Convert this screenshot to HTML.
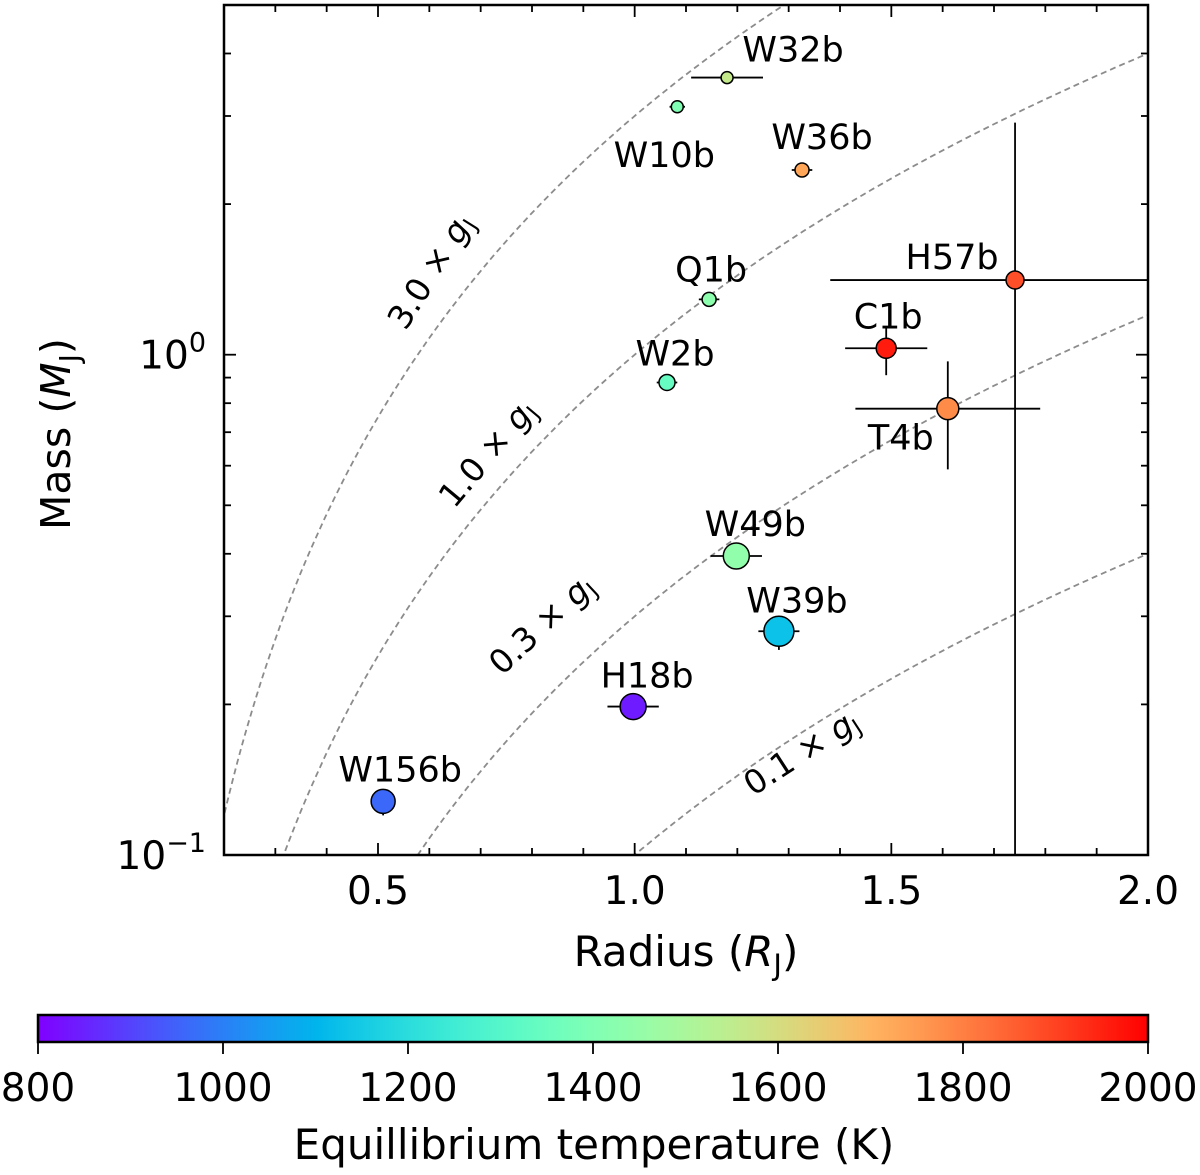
<!DOCTYPE html>
<html><head><meta charset="utf-8"><style>
html,body{margin:0;padding:0;background:#fff;overflow:hidden;width:1200px;height:1175px;}
svg{display:block;font-family:"DejaVu Sans","Liberation Sans",sans-serif;}
</style></head><body>
<svg id="chart" width="1200" height="1175" viewBox="0 0 1200 1175" xmlns="http://www.w3.org/2000/svg">
<defs>
<linearGradient id="cmap" x1="0" x2="1" y1="0" y2="0"></linearGradient>
<clipPath id="plotclip"><rect x="224" y="5" width="924" height="850"/></clipPath>
</defs>
<g id="curves" clip-path="url(#plotclip)"></g>
<g id="curvelabels"></g>
<g id="errs" clip-path="url(#plotclip)"></g>
<g id="pts"></g>
<g id="names"></g>
<g id="axes"></g>
<text transform="translate(70,434) rotate(-90)" text-anchor="middle" font-size="41">Mass (<tspan font-style="italic">M</tspan><tspan font-size="28" dy="9">J</tspan><tspan dy="-9">)</tspan></text>
<text x="686" y="966" text-anchor="middle" font-size="42">Radius (<tspan font-style="italic">R</tspan><tspan font-size="29" dy="9">J</tspan><tspan dy="-9">)</tspan></text>
<rect x="38" y="1015" width="1110" height="27" fill="url(#cmap)" stroke="#000" stroke-width="2.5"/>
<g id="cbticks"></g>
<text x="594" y="1159" text-anchor="middle" font-size="42">Equillibrium temperature (K)</text>
</svg>
<script>
const names=["W32b","W10b","W36b","Q1b","H57b","C1b","W2b","T4b","W49b","W39b","H18b","W156b"];
const radius=[1.18,1.083,1.326,1.145,1.741,1.49,1.063,1.61,1.198,1.281,0.997,0.51];
const mass=[3.58,3.13,2.34,1.29,1.41,1.03,0.88,0.78,0.396,0.28,0.198,0.128];
const temp=[1560,1400,1730,1430,1880,1960,1340,1780,1440,1130,840,960];
const sizes=[6,6,7,7,9,10,8,11,13,15,13,12];
const xerrLo=[0.07,0.015,0.02,0.02,0.36,0.08,0.02,0.18,0.05,0.04,0.05,0.02];
const xerrHi=[0.07,0.015,0.02,0.02,0.5,0.08,0.02,0.18,0.05,0.04,0.05,0.02];
const yLo=[3.5,3.05,2.28,1.25,0.03,0.91,0.86,0.59,0.385,0.257,0.19,0.12];
const yHi=[3.66,3.2,2.4,1.33,2.91,1.14,0.90,0.97,0.41,0.30,0.205,0.135];
const labelDx=[66,-13,20,2,-63,2,8,-47,19,18,14,17];
const labelDy=[-28,48,-33,-30,-23,-32,-29,29,-32,-31,-31,-32];
const gravities=[3.0,1.0,0.3,0.1];
const gravLabels=["3.0","1.0","0.3","0.1"];
const gravLabelR=[0.683,0.78,0.94,1.4];
const gravAngles=[-58,-50,-43,-33];
const gravShiftX=[-20,-15,-45,-25];
const gravShiftY=[3,7,0,65];
const xTicks=[0.5,1.0,1.5,2.0];
const cbTicks=[800,1000,1200,1400,1600,1800,2000];

const NS="http://www.w3.org/2000/svg";
const X0=224,X1=1148,Y0=5,Y1=855;
const xs=v=>X0+(v-0.2)/1.8*(X1-X0);
const ys=v=>Y1-(Math.log10(v)+1)/(Math.log10(5)+1)*(Y1-Y0);
const cx=t=>38+(t-800)/1200*1110;
function rainbow(x){const c=v=>Math.round(255*Math.max(0,Math.min(1,v)));
 return `rgb(${c(Math.abs(2*x-0.5))},${c(Math.sin(Math.PI*x))},${c(Math.cos(Math.PI*x/2))})`;}
function el(tag,attrs,parent){const e=document.createElementNS(NS,tag);for(const k in attrs)e.setAttribute(k,attrs[k]);parent.appendChild(e);return e;}
const G=id=>document.getElementById(id);

const grad=G("cmap");
for(let i=0;i<=40;i++){el("stop",{offset:(i/40),"stop-color":rainbow(i/40)},grad);}

gravities.forEach((g,i)=>{
 let d="";for(let k=0;k<=200;k++){const r=0.15+k*1.9/200;const m=g*r*r;d+=(k?"L":"M")+xs(r).toFixed(1)+","+ys(m).toFixed(1);}
 const p=el("path",{d:d,fill:"none",stroke:"#8c8c8c","stroke-width":1.8,"stroke-dasharray":"6,4"},G("curves"));
 
 
 const r=gravLabelR[i],m=g*r*r;
 const a=gravAngles[i]*Math.PI/180;
 const off=24;
 const px=xs(r)+off*Math.sin(a)+gravShiftX[i], py=ys(m)-off*Math.cos(a)+gravShiftY[i];
 const t=el("text",{transform:`translate(${px.toFixed(1)},${py.toFixed(1)}) rotate(${gravAngles[i]})`,"text-anchor":"middle","dominant-baseline":"middle","font-size":33},G("curvelabels"));
 t.innerHTML=gravLabels[i]+" × <tspan font-style='italic'>g</tspan><tspan font-size='22' dy='9'>J</tspan>";
 
 
});

names.forEach((n,i)=>{
 const x=xs(radius[i]),y=ys(mass[i]);
 const eg=el("g",{stroke:"#000","stroke-width":1.8},G("errs"));
 
 
 el("line",{x1:xs(radius[i]-xerrLo[i]),x2:xs(radius[i]+xerrHi[i]),y1:y,y2:y},eg);
 el("line",{x1:x,x2:x,y1:ys(yLo[i]),y2:ys(yHi[i])},eg);
 const c=el("circle",{cx:x,cy:y,r:sizes[i],fill:rainbow((temp[i]-800)/1200),stroke:"#000","stroke-width":1.5},G("pts"));
 
 
 const t=el("text",{x:x+labelDx[i],y:y+labelDy[i]+12,"text-anchor":"middle","font-size":35},G("names"));
 t.textContent=n;
 
 
});

const ax=G("axes");
const frame=el("rect",{x:X0,y:Y0,width:X1-X0,height:Y1-Y0,fill:"none",stroke:"#000","stroke-width":2.5},ax);


for(let k=3;k<=19;k++){const v=k/10,x=xs(v),maj=(k%5===0),L=maj?12:7;
 el("line",{x1:x,x2:x,y1:Y1,y2:Y1-L,stroke:"#000","stroke-width":1.8},ax);
 el("line",{x1:x,x2:x,y1:Y0,y2:Y0+L,stroke:"#000","stroke-width":1.8},ax);}
xTicks.forEach(v=>{const t=el("text",{x:xs(v),y:904,"text-anchor":"middle","font-size":39},ax);t.textContent=v.toFixed(1);
 
 });
[0.2,0.3,0.4,0.5,0.6,0.7,0.8,0.9,1,2,3,4].forEach(v=>{const y=ys(v),L=(v===1)?12:7;
 el("line",{x1:X0,x2:X0+L,y1:y,y2:y,stroke:"#000","stroke-width":1.8},ax);
 el("line",{x1:X1,x2:X1-L,y1:y,y2:y,stroke:"#000","stroke-width":1.8},ax);});
[[1,"0"],[0.1,"−1"]].forEach(([v,e])=>{const t=el("text",{x:206,y:ys(v)+14,"text-anchor":"end","font-size":39},ax);
 t.innerHTML="10<tspan font-size='27' dy='-17'>"+e+"</tspan>";
 
 });

const cb=G("cbticks");
cbTicks.forEach(v=>{const x=cx(v);el("line",{x1:x,x2:x,y1:1042,y2:1054,stroke:"#000","stroke-width":1.8},cb);
 const t=el("text",{x:x,y:1101,"text-anchor":"middle","font-size":39},cb);t.textContent=v;
 
 });
</script>
</body></html>
